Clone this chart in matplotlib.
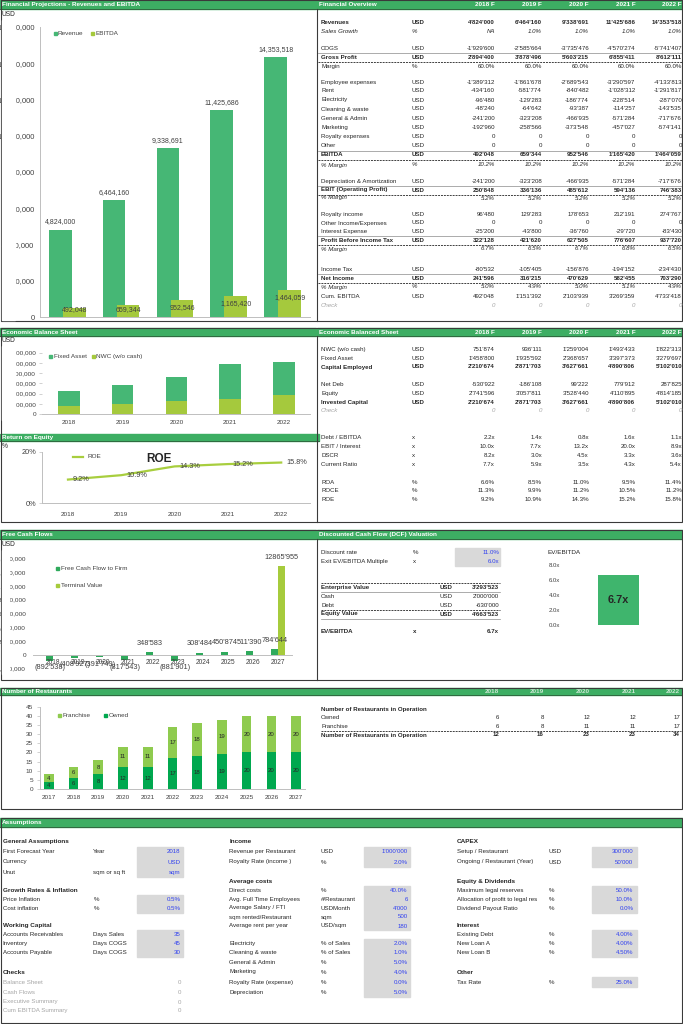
import matplotlib
matplotlib.use('Agg')
import matplotlib.pyplot as plt
from matplotlib.patches import Rectangle
import numpy as np

plt.rcParams['font.family'] = ['Liberation Sans', 'DejaVu Sans']

# ---------------- DATA ----------------
years = ['2018', '2019', '2020', '2021', '2022']
years_f = ['2018 F', '2019 F', '2020 F', '2021 F', '2022 F']
revenue = [4824000, 6464160, 9338691, 11425686, 14353518]
ebitda = [492048, 659344, 952546, 1165420, 1464059]
nwc = [751874, 936111, 1259004, 1493433, 1822313]
fixed_asset = [1458800, 1935592, 2368657, 3397373, 3279697]
roe = [9.2, 10.9, 14.3, 15.2, 15.8]
fcf_years = ['2018', '2019', '2020', '2021', '2022', '2023', '2024', '2025', '2026', '2027']
fcf = [-892538, -408927, -391749, -817543, 348583, -881901, 308484, 450874, 511390, 784644]
terminal = [0, 0, 0, 0, 0, 0, 0, 0, 0, 12865955]
ev_ebitda = 6.7
rest_years = ['2017', '2018', '2019', '2020', '2021', '2022', '2023', '2024', '2025', '2026', '2027']
owned = [4, 6, 8, 12, 12, 17, 18, 19, 20, 20, 20]
franchise = [4, 6, 8, 11, 11, 17, 18, 19, 20, 20, 20]

# Income statement rows: (label, unit, values, style)
income_rows = [
    ('Revenues', 'USD', ["4'824'000", "6'464'160", "9'338'691", "11'425'686", "14'353'518"], 'bold'),
    ('Sales Growth', '%', ['NA', '1.0%', '1.0%', '1.0%', '1.0%'], 'italic'),
    ('COGS', 'USD', ["-1'929'600", "-2'585'664", "-3'735'476", "-4'570'274", "-5'741'407"], ''),
    ('Gross Profit', 'USD', ["2'894'400", "3'878'496", "5'603'215", "6'855'411", "8'612'111"], 'total'),
    ('Margin', '%', ['60.0%', '60.0%', '60.0%', '60.0%', '60.0%'], ''),
    ('Employee expenses', 'USD', ["-1'389'312", "-1'861'678", "-2'689'543", "-3'290'597", "-4'133'813"], ''),
    ('Rent', 'USD', ["-434'160", "-581'774", "-840'482", "-1'028'312", "-1'291'817"], ''),
    ('Electricity', 'USD', ["-96'480", "-129'283", "-186'774", "-228'514", "-287'070"], ''),
    ('Cleaning & waste', 'USD', ["-48'240", "-64'642", "-93'387", "-114'257", "-143'535"], ''),
    ('General & Admin', 'USD', ["-241'200", "-323'208", "-466'935", "-571'284", "-717'676"], ''),
    ('Marketing', 'USD', ["-192'960", "-258'566", "-373'548", "-457'027", "-574'141"], ''),
    ('Royalty expenses', 'USD', ['0', '0', '0', '0', '0'], ''),
    ('Other', 'USD', ['0', '0', '0', '0', '0'], ''),
    ('EBITDA', 'USD', ["492'048", "659'344", "952'546", "1'165'420", "1'464'059"], 'total'),
    ('% Margin', '%', ['10.2%', '10.2%', '10.2%', '10.2%', '10.2%'], 'italic'),
    ('Depreciation & Amortization', 'USD', ["-241'200", "-323'208", "-466'935", "-571'284", "-717'676"], ''),
    ('EBIT (Operating Profit)', 'USD', ["250'848", "336'136", "485'612", "594'136", "746'383"], 'total'),
    ('% Margin', '', ['5.2%', '5.2%', '5.2%', '5.2%', '5.2%'], 'italic'),
    ('Royalty income', 'USD', ["96'480", "129'283", "178'653", "212'191", "274'767"], ''),
    ('Other Income/Expenses', 'USD', ['0', '0', '0', '0', '0'], ''),
    ('Interest Expense', 'USD', ["-25'200", "-43'800", "-36'760", "-29'720", "-83'430"], ''),
    ('Profit Before Income Tax', 'USD', ["322'128", "421'620", "627'505", "776'607", "937'720"], 'total'),
    ('% Margin', '', ['6.7%', '6.5%', '6.7%', '6.8%', '6.5%'], 'italic'),
    ('Income Tax', 'USD', ["-80'532", "-105'405", "-156'876", "-194'152", "-234'430"], ''),
    ('Net Income', 'USD', ["241'596", "316'215", "470'629", "582'455", "703'290"], 'total'),
    ('% Margin', '%', ['5.0%', '4.9%', '5.0%', '5.1%', '4.9%'], 'italic'),
    ('Cum. EBITDA', 'USD', ["492'048", "1'151'392", "2'103'939", "3'269'359", "4'733'418"], ''),
    ('Check', '', ['0', '0', '0', '0', '0'], 'check'),
]
income_y = [22.7, 31.7, 48.3, 57.3, 66.7, 82.3, 91, 100, 109, 118, 127.5, 136.5, 145.5, 155,
            165, 181.7, 190, 198, 214.3, 223, 231.7, 240, 249, 269.3, 278.3, 287, 296.7, 305.7]

bs_rows = [
    ('NWC (w/o cash)', 'USD', ["751'874", "936'111", "1'259'004", "1'493'433", "1'822'313"], ''),
    ('Fixed Asset', 'USD', ["1'458'800", "1'935'592", "2'368'657", "3'397'373", "3'279'697"], ''),
    ('Capital Employed', 'USD', ["2'210'674", "2'871'703", "3'627'661", "4'890'806", "5'102'010"], 'bold'),
    ('Net Deb', 'USD', ["-530'922", "-186'108", "99'222", "779'912", "287'825"], ''),
    ('Equity', 'USD', ["2'741'596", "3'057'811", "3'528'440", "4'110'895", "4'814'185"], ''),
    ('Invested Capital', 'USD', ["2'210'674", "2'871'703", "3'627'661", "4'890'806", "5'102'010"], 'bold'),
    ('Check', '', ['0', '0', '0', '0', '0'], 'check'),
    ('Debt / EBITDA', 'x', ['2.2x', '1.4x', '0.8x', '1.6x', '1.1x'], ''),
    ('EBIT / Interest', 'x', ['10.0x', '7.7x', '13.2x', '20.0x', '8.9x'], ''),
    ('DSCR', 'x', ['8.2x', '3.0x', '4.5x', '3.3x', '3.6x'], ''),
    ('Current Ratio', 'x', ['7.7x', '5.9x', '3.5x', '4.3x', '5.4x'], ''),
    ('ROA', '%', ['6.6%', '8.5%', '11.0%', '9.5%', '11.4%'], ''),
    ('ROCE', '%', ['11.3%', '9.9%', '11.2%', '10.5%', '11.2%'], ''),
    ('ROE', '%', ['9.2%', '10.9%', '14.3%', '15.2%', '15.8%'], ''),
]
bs_y = [349.3, 358.3, 367, 385, 393.7, 402.3, 410.7, 437.3, 446.7, 455.3, 464, 482, 490.7, 499.3]

dcf_inputs = [('Discount rate', '%', '11.0%'), ('Exit EV/EBITDA Multiple', 'x', '6.0x')]
dcf_rows = [('Enterprise Value', 'USD', "3'293'523", True), ('Cash', 'USD', "2'000'000", False),
            ('Debt', 'USD', "-630'000", False), ('Equity Value', 'USD', "4'663'523", True)]

rest_table = [('Owned', [6, 8, 12, 12, 17]), ('Franchise', [6, 8, 11, 11, 17])]
rest_total = [12, 16, 23, 23, 34]

assump_col1 = [
    ('General Assumptions', None, None, 841.7),
    ('First Forecast Year', 'Year', '2018', 851.7), ('Currency', '', 'USD', 862), ('Unut', 'sqm or sq ft', 'sqm', 872.3),
    ('Growth Rates & Inflation', None, None, 890.7),
    ('Price Inflation', '%', '0.5%', 899.3), ('Cost inflation', '%', '0.5%', 908.3),
    ('Working Capital', None, None, 925.7),
    ('Accounts Receivables', 'Days Sales', '35', 934.7), ('Inventory', 'Days COGS', '45', 943.7),
    ('Accounts Payable', 'Days COGS', '30', 952.7),
    ('Checks', None, None, 972),
]
checks = [('Balance Sheet', 982.3), ('Cash Flows', 992.3), ('Executive Summary', 1002), ('Cum EBITDA Summary', 1010.7)]
assump_col2 = [
    ('Income', None, None, 841.7),
    ('Revenue per Restaurant', 'USD', "1'000'000", 851.7), ('Royalty Rate (income )', '%', '2.0%', 862),
    ('Average costs', None, None, 881.7),
    ('Direct costs', '%', '40.0%', 890.3), ('Avg. Full Time Employees', '#/Restaurant', '6', 899.3),
    ('Average Salary / FTI', 'USDMonth', "4'000", 908), ('sqm rented/Restaurant', 'sqm', '500', 917),
    ('Average rent per year', 'USD/sqm', '180', 926),
    ('Electricity', '% of Sales', '2.0%', 943.7), ('Cleaning & waste', '% of Sales', '1.0%', 952.7),
    ('General & Admin', '%', '5.0%', 962), ('Marketing', '%', '4.0%', 972),
    ('Royalty Rate (expense)', '%', '0.0%', 982.3), ('Depreciation', '%', '5.0%', 992.3),
]
assump_col3 = [
    ('CAPEX', None, None, 841.7),
    ('Setup / Restaurant', 'USD', "300'000", 851.7), ('Ongoing / Restaurant (Year)', 'USD', "50'000", 862),
    ('Equity & Dividends', None, None, 881.7),
    ('Maximum legal reserves', '%', '50.0%', 890.3), ('Allocation of profit to legal res', '%', '10.0%', 899.3),
    ('Dividend Payout Ratio', '%', '0.0%', 908.3),
    ('Interest', None, None, 925.7),
    ('Existing Debt', '%', '4.00%', 934.7), ('New Loan A', '%', '4.00%', 943.7), ('New Loan B', '%', '4.50%', 952.7),
    ('Other', None, None, 972),
    ('Tax Rate', '%', '25.0%', 982.3),
]

# ---------------- STYLE ----------------
HDR = '#3DAE63'
REV_C = '#46B775'
EB_C = '#A5C93D'
FCF_C = '#2FAA5C'
TV_C = '#A6CB3C'
OWN_C = '#00A84F'
FRA_C = '#8FCB4F'
EV_C = '#3FB56D'
ROE_C = '#A8CE3E'
TXT = '#262626'
TICK = '#404040'
GREY = '#A6A6A6'
BLUE = '#3040F0'
BOX = '#D9D9D9'
AXC = '#BFBFBF'
FS = 4.4

W, H = 683, 1024
fig = plt.figure(figsize=(W / 100, H / 100), dpi=100, facecolor='white')
bg = fig.add_axes([0, 0, 1, 1], zorder=0)
bg.set_xlim(0, W)
bg.set_ylim(H, 0)
bg.axis('off')


def px_axes(x0, y0, x1, y1):
    ax = fig.add_axes([x0 / W, 1 - y1 / H, (x1 - x0) / W, (y1 - y0) / H], zorder=2)
    ax.set_facecolor('none')
    return ax


def T(x, y, s, ha='left', size=FS, weight='normal', style='normal', color=TXT, va='center'):
    bg.text(x, y, s, ha=ha, va=va, fontsize=size, fontweight=weight, fontstyle=style, color=color)


def header(x0, x1, y0, y1, title, cols=None, labels=None, lab_color='white'):
    bg.add_patch(Rectangle((x0, y0), x1 - x0, y1 - y0, color=HDR, zorder=1))
    bg.plot([x0, x1], [y1, y1], color='#2E5E3A', lw=0.6, zorder=2)
    T(x0 + 2, (y0 + y1) / 2 + 0.3, title, weight='bold', color='white', size=4.6)
    if cols:
        for c, l in zip(cols, labels):
            T(c, (y0 + y1) / 2 + 0.3, l, ha='right', weight='bold', color=lab_color, size=4.6)


def hline(x0, x1, y, dashed=False, lw=0.6, color='#404040'):
    bg.plot([x0, x1], [y, y], color=color, lw=lw, ls=(0, (2, 1)) if dashed else '-', zorder=2)


def box(x0, x1, y0, y1):
    bg.add_patch(Rectangle((x0, y0), x1 - x0, y1 - y0, color=BOX, zorder=0.5))


def cover(x0, x1, y0, y1):
    # the reference's left-column charts are cut off at their left edge
    fig.patches.append(Rectangle((x0 / W, 1 - y1 / H), (x1 - x0) / W, (y1 - y0) / H,
                                 transform=fig.transFigure, color='white', zorder=10))


COLS = [495, 542, 589, 635.5, 682]

# ---------------- section borders ----------------
BORD = '#3A3A3A'
for (y0, y1) in [(0, 321), (327.5, 522), (530, 680), (687.5, 809), (818, 1023)]:
    bg.add_patch(Rectangle((0.6, y0), 681.2, y1 - y0, fill=False, ec=BORD, lw=0.8, zorder=3))
for (y0, y1) in [(8.5, 321), (336, 522), (538.5, 680)]:
    bg.plot([316.8, 316.8], [y0, y1], color=BORD, lw=0.8, zorder=3)

# ---------------- headers ----------------
header(0, 316, 0, 8.5, 'Financial Projections - Revenues and EBITDA')
header(317, 683, 0, 8.5, 'Financial Overview', COLS, years_f)
header(0, 316, 327.5, 336, 'Economic Balance Sheet')
header(317, 683, 327.5, 336, 'Economic Balanced Sheet', COLS, years_f)
header(0, 318.5, 433.5, 441, 'Return on Equity')
header(0, 316, 530, 538.5, 'Free Cash Flows')
header(317, 683, 530, 538.5, 'Discounted Cash Flow (DCF) Valuation')
header(0, 683, 687.5, 694.5, 'Number of Restaurants', [499, 544, 590, 636, 680], years, lab_color='#CBE8D3')
header(0, 683, 818, 827, 'Assumptions')

# ---------------- Chart 1: Revenues & EBITDA ----------------
T(2, 14, 'USD', size=4.8)
ax1 = px_axes(40, 27, 310, 317)
x = np.arange(len(years))
ax1.bar(x - 0.13, revenue, 0.42, color=REV_C, zorder=2)
ax1.bar(x + 0.13, ebitda, 0.42, color=EB_C, zorder=3)
ax1.set_xlim(-0.506, 4.509)
ax1.set_ylim(0, 16e6)
yt = np.arange(0, 16e6 + 1, 2e6)
ax1.set_yticks(yt)
ax1.set_yticklabels([f"{int(v):,}" for v in yt], fontsize=5.4, color=TICK)
ax1.tick_params(axis='y', length=0, pad=4)
ax1.set_xticks([])
for s in ['top', 'right']:
    ax1.spines[s].set_visible(False)
for s in ['left', 'bottom']:
    ax1.spines[s].set_color(AXC)
    ax1.spines[s].set_linewidth(0.7)
for i, v in enumerate(revenue):
    ax1.annotate(f"{v:,}", (i - 0.13, v), xytext=(0, 5.5), textcoords='offset points',
                 ha='center', va='center', fontsize=5, color=TICK)
for i, v in enumerate(ebitda):
    ax1.text(i + 0.13, max(v - 414e3, 430e3), f"{v:,}", ha='center', va='center', fontsize=5, color=TICK, zorder=4)
# legend
bg.add_patch(Rectangle((53.5, 31.8), 3, 3, color=REV_C))
T(58, 33.5, 'Revenue', size=4.6, color=TICK)
bg.add_patch(Rectangle((90.5, 31.8), 3, 3, color=EB_C))
T(95, 33.5, 'EBITDA', size=4.6, color=TICK)
cover(1.5, 14.5, 20, 320)

# ---------------- Income statement table ----------------
for (lab, unit, vals, st), y in zip(income_rows, income_y):
    bold = st in ('bold', 'total')
    ital = st in ('italic', 'check')
    col = GREY if st == 'check' else TXT
    w = 'bold' if bold else 'normal'
    s = 'italic' if ital else 'normal'
    T(321, y, lab, weight=w, style=s, color=col)
    T(412, y, unit, weight=w, style=s, color=col)
    for c, v in zip(COLS, vals):
        T(c, y, v, ha='right', weight=w, style=s, color=col)
    if st == 'total':
        hline(318, 683, y - 4.5, dashed=False, lw=0.5, color='#8A8A8A')
        hline(318, 683, y + 4.6, dashed=True, lw=0.7)

# ---------------- Chart 2: Balance sheet ----------------
T(2, 340, 'USD', size=4.8)
ax2 = px_axes(41.7, 352.7, 310, 414)
ax2.bar(x, nwc, 0.40, color=EB_C, zorder=2)
ax2.bar(x, fixed_asset, 0.40, bottom=nwc, color=REV_C, zorder=2)
ax2.set_xlim(-0.508, 4.484)
ax2.set_ylim(0, 6e6)
yt2 = np.arange(0, 6e6 + 1, 1e6)
ax2.set_yticks(yt2)
ax2.set_yticklabels([f"{int(v):,}" for v in yt2], fontsize=4.6, color=TICK)
ax2.set_xticks(x)
ax2.set_xticklabels(years, fontsize=4.6, color=TICK)
ax2.tick_params(axis='y', length=2, pad=2, color=AXC, width=0.5)
ax2.tick_params(axis='x', length=0, pad=4)
for s in ['top', 'right', 'left']:
    ax2.spines[s].set_visible(False)
ax2.spines['bottom'].set_color(AXC)
ax2.spines['bottom'].set_linewidth(0.7)
bg.add_patch(Rectangle((48.5, 355.2), 3, 3, color=REV_C))
T(53.5, 356.7, 'Fixed Asset', size=4.6, color=TICK)
bg.add_patch(Rectangle((91.5, 355.2), 3, 3, color=EB_C))
T(96, 356.7, 'NWC (w/o cash)', size=4.6, color=TICK)
cover(1.5, 14.5, 346, 420)

# ---------------- Chart 3: ROE ----------------
T(2, 446, '%', size=4.8)
ax3 = px_axes(41.7, 451.7, 310, 503.3)
ax3.plot(x, roe, color=ROE_C, lw=1.6, zorder=2)
ax3.set_xlim(-0.493, 4.54)
ax3.set_ylim(0, 20)
ax3.set_yticks([0, 20])
ax3.set_yticklabels(['0%', '20%'], fontsize=5.3, color=TICK)
ax3.set_xticks(x)
ax3.set_xticklabels(years, fontsize=4.6, color=TICK)
ax3.tick_params(axis='y', length=2, pad=2, color=AXC, width=0.5)
ax3.tick_params(axis='x', length=0, pad=6)
for s in ['top', 'right']:
    ax3.spines[s].set_visible(False)
for s in ['left', 'bottom']:
    ax3.spines[s].set_color(AXC)
    ax3.spines[s].set_linewidth(0.7)
for i, v in enumerate(roe):
    ax3.annotate(f"{v}%", (i, v), xytext=(3.5, 0), textcoords='offset points',
                 ha='left', va='center', fontsize=5.3, color=TICK)
bg.plot([73, 83], [457, 457], color=ROE_C, lw=1.6)
T(87, 457, 'ROE', size=4.6, color=TICK)
T(159, 459, 'ROE', size=8.5, weight='bold', ha='center', color=TXT)

# ---------------- Balance sheet table ----------------
for (lab, unit, vals, st), y in zip(bs_rows, bs_y):
    bold = st == 'bold'
    col = GREY if st == 'check' else TXT
    w = 'bold' if bold else 'normal'
    s = 'italic' if st == 'check' else 'normal'
    T(321, y, lab, weight=w, style=s, color=col)
    T(412, y, unit, weight=w, style=s, color=col)
    for c, v in zip(COLS, vals):
        T(c, y, v, ha='right', weight=w, style=s, color=col)

# ---------------- Chart 4: FCF ----------------
T(2, 544, 'USD', size=4.8)
ax4 = px_axes(33, 558.5, 292, 668.5)
xf = np.arange(len(fcf_years))
ax4.bar(xf - 0.14, fcf, 0.28, color=FCF_C, zorder=2)
ax4.bar(xf + 0.14, terminal, 0.28, color=TV_C, zorder=2)
ax4.set_xlim(-0.81, 9.55)
ax4.set_ylim(-2e6, 14e6)
yt4 = np.arange(-2e6, 14e6 + 1, 2e6)
ax4.set_yticks(yt4)
ax4.set_yticklabels([f"{int(v):,}" for v in yt4], fontsize=4.6, color=TICK)
ax4.tick_params(axis='y', length=0, pad=5)
ax4.set_xticks([])
for s in ['top', 'right', 'left']:
    ax4.spines[s].set_visible(False)
ax4.spines['bottom'].set_position(('data', 0))
ax4.spines['bottom'].set_color(AXC)
ax4.spines['bottom'].set_linewidth(0.7)
for i, yl in enumerate(fcf_years):
    ax4.annotate(yl, (i, 0), xytext=(0, -5.6), textcoords='offset points',
                 ha='center', va='center', fontsize=4.8, color=TICK)


def apos(v):
    a = int(abs(v))
    s = f"{a // 1000}'{a % 1000:03d}" if a >= 1000 else str(a)
    return f"({s})" if v < 0 else s


for i, v in enumerate(fcf):
    off = 6.6 if v > 0 else -4.8
    ax4.annotate(apos(v), (i - 0.14, v), xytext=(0, off), textcoords='offset points',
                 ha='center', va='center', fontsize=5.3, color=TICK)
for i, v in enumerate(terminal):
    if v:
        ax4.annotate(apos(v), (i + 0.14, v), xytext=(0, 6.4), textcoords='offset points',
                     ha='center', va='center', fontsize=5.3, color=TICK)
bg.add_patch(Rectangle((56, 567.2), 3, 3, color=FCF_C))
T(61, 568.7, 'Free Cash Flow to Firm', size=4.6, color=TICK)
bg.add_patch(Rectangle((56, 583.8), 3, 3, color=TV_C))
T(61, 585.3, 'Terminal Value', size=4.6, color=TICK)
cover(1.5, 8.5, 550, 674)

# ---------------- DCF table ----------------
box(455, 500, 548, 566)
for (lab, unit, val), y in zip(dcf_inputs, [552.7, 561.7]):
    T(321, y, lab)
    T(413, y, unit)
    T(499, y, val, ha='right', color=BLUE)
for (lab, unit, val, b), y in zip(dcf_rows, [587.7, 596.3, 605.3, 614]):
    w = 'bold' if b else 'normal'
    T(321, y, lab, weight=w)
    T(440, y, unit, weight=w)
    T(499, y, val, ha='right', weight=w)
hline(321, 500, 583, dashed=True, lw=0.7)
hline(321, 500, 592, lw=0.5, color='#8A8A8A')
hline(321, 500, 609.6, dashed=True, lw=0.7)
hline(321, 500, 618.5, lw=0.5, color='#8A8A8A')
T(321, 631.7, 'EV/EBITDA', weight='bold')
T(413, 631.7, 'x', weight='bold')
T(499, 631.7, f"{ev_ebitda:.1f}x", ha='right', weight='bold')

# EV/EBITDA mini chart
T(548, 552.7, 'EV/EBITDA', size=4.6)
ax5 = px_axes(566, 565, 671, 625.3)
ax5.bar([0], [ev_ebitda], 0.39, color=EV_C)
ax5.set_xlim(-0.5, 0.5)
ax5.set_ylim(0, 8)
ax5.set_yticks([0, 2, 4, 6, 8])
ax5.set_yticklabels([f"{v:.1f}x" for v in [0, 2, 4, 6, 8]], fontsize=4.3, color=TICK)
ax5.tick_params(axis='y', length=0, pad=4)
ax5.set_xticks([])
for s in ax5.spines.values():
    s.set_visible(False)
ax5.text(0, ev_ebitda / 2, f"{ev_ebitda:.1f}x", ha='center', va='center', fontsize=7.8, fontweight='bold', color=TXT)

# ---------------- Chart 6: Restaurants ----------------
ax6 = px_axes(40, 706.7, 305, 789)
xr = np.arange(len(rest_years))
ax6.bar(xr, owned, 0.39, color=OWN_C, zorder=2)
ax6.bar(xr, franchise, 0.39, bottom=owned, color=FRA_C, zorder=2)
ax6.set_xlim(-0.356, 10.36)
ax6.set_ylim(0, 45)
ax6.set_yticks(np.arange(0, 46, 5))
ax6.set_yticklabels([str(v) for v in range(0, 46, 5)], fontsize=4.6, color=TICK)
ax6.set_xticks(xr)
ax6.set_xticklabels(rest_years, fontsize=4.6, color=TICK)
ax6.tick_params(axis='y', length=2.5, pad=2.5, color=AXC, width=0.5)
ax6.tick_params(axis='x', length=0, pad=4)
for s in ['top', 'right']:
    ax6.spines[s].set_visible(False)
for s in ['left', 'bottom']:
    ax6.spines[s].set_color(AXC)
    ax6.spines[s].set_linewidth(0.7)
for i, (o, f) in enumerate(zip(owned, franchise)):
    ax6.text(i, o / 2, str(o), ha='center', va='center', fontsize=4.3, color=TXT, zorder=3)
    ax6.text(i, o + f / 2, str(f), ha='center', va='center', fontsize=4.3, color=TXT, zorder=3)
bg.add_patch(Rectangle((57.5, 714.2), 3, 3, color=FRA_C))
T(62.5, 715.7, 'Franchise', size=4.6, color=TICK)
bg.add_patch(Rectangle((103.5, 714.2), 3, 3, color=OWN_C))
T(108.5, 715.7, 'Owned', size=4.6, color=TICK)

# restaurant table
RCOLS = [499, 544, 590, 636, 680]
T(321, 709, 'Number of Restaurants in Operation', weight='bold')
for (lab, vals), y in zip(rest_table, [717.7, 726.3]):
    T(321, y, lab)
    for c, v in zip(RCOLS, vals):
        T(c, y, str(v), ha='right')
hline(321, 681, 730.8, dashed=True, lw=0.7)
T(321, 735, 'Number of Restaurants in Operation', weight='bold')
for c, v in zip(RCOLS, rest_total):
    T(c, 735, str(v), ha='right', weight='bold')

# ---------------- Assumptions ----------------
box(136.7, 182.7, 846.7, 876.7)
box(136.7, 182.7, 895, 912.7)
box(136.7, 182.7, 930, 956.7)
box(364, 410, 846.7, 866.7)
box(364, 410, 886, 930)
box(364, 410, 939.3, 996.7)
box(591.7, 637.3, 846.7, 866.7)
box(591.7, 637.3, 886, 912.7)
box(591.7, 637.3, 930, 956.7)
box(591.7, 637.3, 976.7, 987.3)


def assump(rows, lx, ux, vx):
    for lab, unit, val, y in rows:
        if unit is None:
            T(lx, y, lab, weight='bold', size=4.6)
        else:
            T(lx, y, lab)
            T(ux, y, unit)
            T(vx, y, val, ha='right', color=BLUE)


assump(assump_col1, 2.7, 93.3, 180.7)
assump(assump_col2, 229.3, 320.7, 407.7)
assump(assump_col3, 456.7, 548.3, 633.3)
for lab, y in checks:
    T(2.7, y, lab, color=GREY)
    T(180.7, y, '0', ha='right', color=GREY)

fig.savefig('out.png', dpi=100, facecolor='white')
